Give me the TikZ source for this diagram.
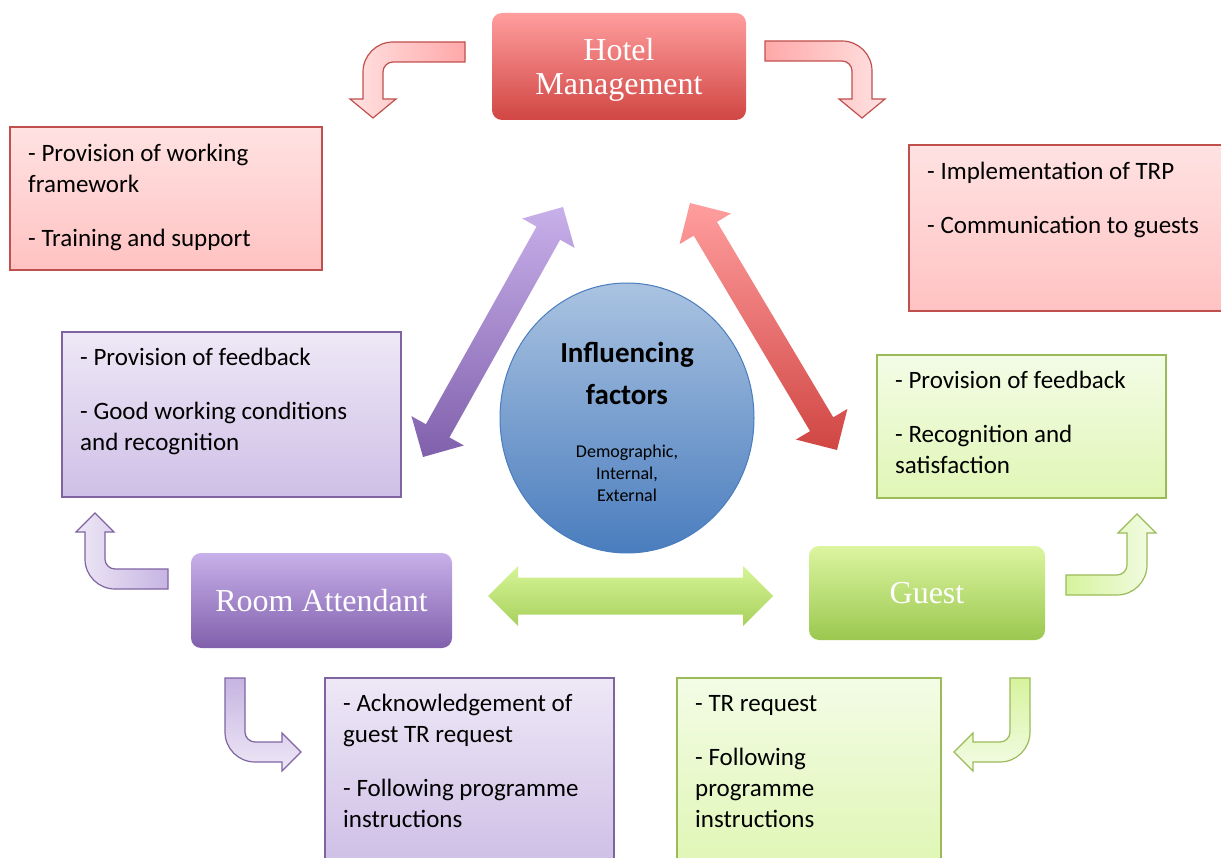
\documentclass[tikz,border=0pt]{standalone}
\usepackage{fontspec}
\setmainfont{Carlito}
\newfontfamily\titlefont{Liberation Serif}
\usetikzlibrary{shapes.geometric, calc, positioning}

\definecolor{hmtop}{HTML}{FF9E9E}
\definecolor{hmbot}{HTML}{D04643}
\definecolor{ratop}{HTML}{C8B0EA}
\definecolor{rabot}{HTML}{8060AC}
\definecolor{gutop}{HTML}{DCF5A0}
\definecolor{gubot}{HTML}{9BC850}
\definecolor{gatop}{HTML}{D6F597}
\definecolor{gabot}{HTML}{A8D05C}
\definecolor{iftop}{HTML}{AAC3E1}
\definecolor{ifbot}{HTML}{4A7DBE}
\definecolor{redln}{HTML}{C0504D}
\definecolor{redlt}{HTML}{FFE2E2}
\definecolor{redmd}{HTML}{FFA8A8}
\definecolor{purln}{HTML}{8064A2}
\definecolor{purlt}{HTML}{EEE8F6}
\definecolor{purmd}{HTML}{C6B4E2}
\definecolor{grnln}{HTML}{9BBB59}
\definecolor{grnlt}{HTML}{F3FCE6}
\definecolor{grnmd}{HTML}{D6F39D}

\tikzset{
  title/.style={rounded corners=10pt, text=white, align=center,
    font=\titlefont\fontsize{32}{34}\selectfont},
  txt/.style={anchor=north west, inner sep=0pt, align=left,
    font=\fontsize{25}{31}\selectfont},
  redbox/.style={draw=redln, line width=1.3pt, top color=redlt, bottom color=redmd!70},
  purbox/.style={draw=purln, line width=1.3pt, top color=purlt, bottom color=purmd!85},
  grnbox/.style={draw=grnln, line width=1.3pt, top color=grnlt, bottom color=grnmd!75},
}

% bent arrow: placement, colours, tail length, drop, head overhang
\newcommand{\bentarrow}[5]{%
  \begin{scope}[#1]
    \shade[#2, line width=1.2pt] (#3,0) -- (30,0) .. controls (13.4,0) and (0,13.4) .. (0,30)
      -- (0,#4) -- (-#5,#4) -- (10,#4+19) -- (20+#5,#4) -- (20,#4)
      -- (20,30) .. controls (20,24.5) and (24.5,20) .. (30,20) -- (#3,20) -- cycle;
  \end{scope}}

% double arrow: style, first tip, second tip, shaft half width, head half width
\newcommand{\dblarrow}[5]{%
  \coordinate (#2h) at ($(#2)!30pt!(#3)$);
  \coordinate (#3h) at ($(#3)!30pt!(#2)$);
  \shade[#1] (#2) -- ($(#2h)!#5!90:(#3)$) -- ($(#2h)!#4!90:(#3)$)
    -- ($(#3h)!#4!-90:(#2)$) -- ($(#3h)!#5!-90:(#2)$) -- (#3)
    -- ($(#3h)!#5!90:(#2)$) -- ($(#3h)!#4!90:(#2)$)
    -- ($(#2h)!#4!-90:(#3)$) -- ($(#2h)!#5!-90:(#3)$) -- cycle;}

\begin{document}
\begin{tikzpicture}[x=1pt, y=-1pt]
\useasboundingbox (0,0) rectangle (1221,858);

% main actors
\node[title, top color=hmtop, bottom color=hmbot, minimum width=254pt, minimum height=107pt]
  (hm) at (619,66.5) {};
\node (hmtxt) at (619,70) [title, text=white] {Hotel\\Management};
\node[title, top color=ratop, bottom color=rabot, minimum width=261pt, minimum height=95pt]
  (ra) at (321.5,600.5) {Room Attendant};
\node[title, top color=gutop, bottom color=gubot, minimum width=236pt, minimum height=94pt]
  (gu) at (927,593) {Guest};

% centre
\node[ellipse, draw=ifbot, line width=1pt, top color=iftop, bottom color=ifbot,
  minimum width=254pt, minimum height=270pt] (inf) at (627,418) {};
\node[align=center, font=\bfseries\fontsize{29}{42}\selectfont] (inftxt) at (627,373) {Influencing\\factors};
\node[align=center, font=\fontsize{18}{22}\selectfont] (factxt) at (627,473) {Demographic,\\Internal,\\External};

% double arrows
\coordinate (purlow) at (423,457);
\coordinate (purhigh) at (563,207);
\coordinate (redhigh) at (690,203);
\coordinate (redlow) at (837,450);
\coordinate (grnl) at (488,596);
\coordinate (grnr) at (773,596);
\dblarrow{top color=ratop, bottom color=rabot}{purlow}{purhigh}{13.5pt}{30pt}
\dblarrow{top color=hmtop, bottom color=hmbot}{redhigh}{redlow}{13.5pt}{30pt}
\dblarrow{top color=gatop, bottom color=gabot}{grnl}{grnr}{18.5pt}{30pt}

% bent arrows
\bentarrow{shift={(363,42)}}{draw=redln, left color=redlt, right color=redmd}{102}{57}{13}
\bentarrow{shift={(872,41)}, xscale=-1}{draw=redln, left color=redmd, right color=redlt}{107}{58}{13}
\bentarrow{shift={(85,589)}, yscale=-1}{draw=purln, left color=purlt, right color=purmd}{83}{57}{9}
\bentarrow{shift={(1147,595)}, xscale=-1, yscale=-1}{draw=grnln, left color=grnmd, right color=grnlt}{81}{62}{9}
\bentarrow{shift={(225,762)}, rotate=90}{draw=purln, top color=purmd, bottom color=purlt}{84}{57}{9}
\bentarrow{shift={(1030,762)}, xscale=-1, rotate=90}{draw=grnln, top color=grnmd, bottom color=grnlt}{84}{57}{9}

% text boxes
\draw[redbox] (10,127) rectangle (322,270);
\node[txt] (hmleft) at (28,144) {- Provision of working\\framework\\[23pt]- Training and support};
\draw[redbox] (909,145) rectangle (1224,311);
\node[txt] (hmright) at (927,162) {- Implementation of TRP\\[23pt]- Communication to guests};
\draw[purbox] (62,332) rectangle (401,497);
\node[txt] (raup) at (80,348) {- Provision of feedback\\[23pt]- Good working conditions\\and recognition};
\draw[grnbox] (877,355) rectangle (1166,498);
\node[txt] (guup) at (895,371) {- Provision of feedback\\[23pt]- Recognition and\\satisfaction};
\draw[purbox] (325,678) rectangle (614,862);
\node[txt] (radown) at (343,694) {- Acknowledgement of\\guest TR request\\[23pt]- Following programme\\instructions};
\draw[grnbox] (677,678) rectangle (941,862);
\node[txt] (gudown) at (695,695) {- TR request\\[23pt]- Following\\programme\\instructions};

\end{tikzpicture}
\end{document}
